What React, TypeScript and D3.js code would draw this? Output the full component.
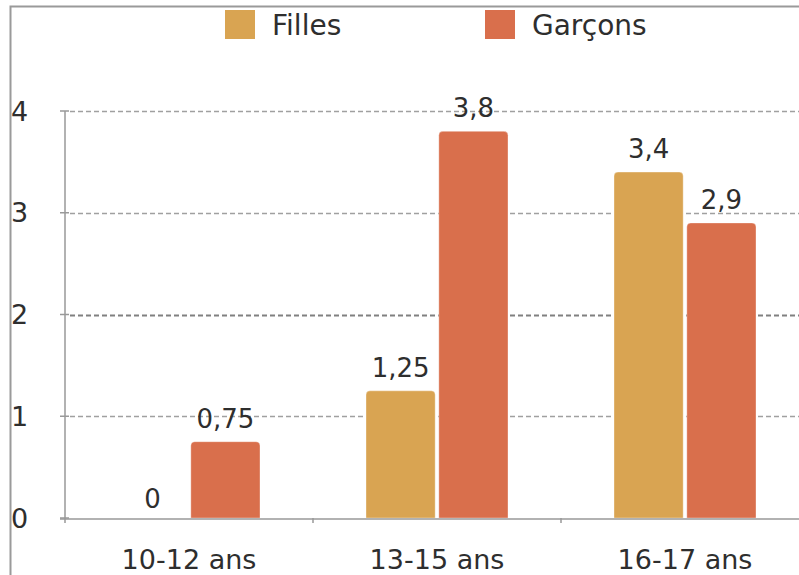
import { useEffect, useRef } from "react";
import * as d3 from "d3";

// age groups and values per series
const categories = ["10-12 ans", "13-15 ans", "16-17 ans"];
const seriesNames = ["Filles", "Garçons"];
const filles = [0, 1.25, 3.4];
const garcons = [0.75, 3.8, 2.9];
const valueLabels = [
  ["0", "1,25", "3,4"],
  ["0,75", "3,8", "2,9"],
];
const yTicks = [0, 1, 2, 3, 4];

const COLORS = ["#D9A452", "#D96F4C"];
const FONT = "'DejaVu Sans', Verdana, sans-serif";
const TEXT = "#2e2e2e";
const W = 799;
const H = 575;
const M = { left: 65, right: -10, top: 111, bottom: 57 };

export default function App() {
  const svgRef = useRef<SVGSVGElement | null>(null);

  useEffect(() => {
    const svg = d3.select(svgRef.current);
    svg.selectAll("*").remove();

    const series = [filles, garcons];
    const x0 = d3
      .scaleBand<string>()
      .domain(categories)
      .range([M.left, W - M.right]);
    const x1 = d3
      .scaleBand<string>()
      .domain(seriesNames)
      .range([0, 142])
      .paddingInner(0.05);
    const groupOffset = (x0.bandwidth() - 142) / 2;
    const y = d3.scaleLinear().domain([0, 4]).range([H - M.bottom, M.top]);

    // frame (cropped border on top and left)
    svg
      .append("path")
      .attr("d", `M10.5,${H} V6.5 H${W}`)
      .attr("fill", "none")
      .attr("stroke", "#9a9a9a")
      .attr("stroke-width", 2);

    // gridlines
    svg
      .append("g")
      .selectAll("line")
      .data(yTicks.filter((d) => d > 0))
      .join("line")
      .attr("x1", M.left + 5)
      .attr("x2", W)
      .attr("y1", (d) => Math.round(y(d)) + 0.5)
      .attr("y2", (d) => Math.round(y(d)) + 0.5)
      .attr("stroke", (d) => (d === 2 ? "#808080" : "#a0a0a0"))
      .attr("stroke-width", (d) => (d === 2 ? 2 : 1.3))
      .attr("stroke-dasharray", "5 3");

    // y tick labels, left aligned near the frame
    svg
      .append("g")
      .selectAll("text")
      .data(yTicks)
      .join("text")
      .attr("x", 11)
      .attr("y", (d) => y(d))
      .attr("dy", "0.36em")
      .attr("font-family", FONT)
      .attr("font-size", 27)
      .attr("fill", TEXT)
      .text((d) => d);

    // bars with rounded top corners
    const r = 4;
    const barPath = (x: number, w: number, top: number, bottom: number) => {
      const rr = Math.min(r, (bottom - top) / 2, w / 2);
      return `M${x},${bottom} V${top + rr} Q${x},${top} ${x + rr},${top} H${x + w - rr} Q${x + w},${top} ${x + w},${top + rr} V${bottom} Z`;
    };
    const bars = series.flatMap((vals, si) =>
      vals.map((v, ci) => ({ si, ci, v, label: valueLabels[si][ci] }))
    );
    const bx = (d: { si: number; ci: number }) =>
      (x0(categories[d.ci]) ?? 0) + groupOffset + (x1(seriesNames[d.si]) ?? 0);

    svg
      .append("g")
      .selectAll("path")
      .data(bars.filter((d) => d.v > 0))
      .join("path")
      .attr("d", (d) => barPath(bx(d), x1.bandwidth(), y(d.v), y(0)))
      .attr("fill", (d) => COLORS[d.si])
      .attr("stroke", "rgba(255,255,255,0.35)")
      .attr("stroke-width", 1);

    svg
      .append("g")
      .selectAll("text")
      .data(bars)
      .join("text")
      .attr("x", (d) => bx(d) + x1.bandwidth() / 2)
      .attr("y", (d) => y(d.v) - (d.v === 0 ? 10 : 14))
      .attr("text-anchor", "middle")
      .attr("font-family", FONT)
      .attr("font-size", 26)
      .attr("fill", TEXT)
      .text((d) => d.label);

    // axes
    const axisColor = "#999";
    svg
      .append("line")
      .attr("x1", M.left)
      .attr("x2", M.left)
      .attr("y1", y(4))
      .attr("y2", y(0) + 5)
      .attr("stroke", axisColor)
      .attr("stroke-width", 1.5);
    svg
      .append("g")
      .selectAll("line")
      .data(yTicks)
      .join("line")
      .attr("x1", M.left - 5)
      .attr("x2", M.left + 4)
      .attr("y1", (d) => y(d))
      .attr("y2", (d) => y(d))
      .attr("stroke", axisColor)
      .attr("stroke-width", 1.5);
    svg
      .append("line")
      .attr("x1", M.left - 5)
      .attr("x2", W)
      .attr("y1", y(0) + 1)
      .attr("y2", y(0) + 1)
      .attr("stroke", axisColor)
      .attr("stroke-width", 1.5);
    svg
      .append("g")
      .selectAll("line")
      .data(categories.slice(1))
      .join("line")
      .attr("x1", (d) => x0(d) ?? 0)
      .attr("x2", (d) => x0(d) ?? 0)
      .attr("y1", y(0))
      .attr("y2", y(0) + 5)
      .attr("stroke", axisColor)
      .attr("stroke-width", 1.5);

    // category labels
    svg
      .append("g")
      .selectAll("text")
      .data(categories)
      .join("text")
      .attr("x", (d) => (x0(d) ?? 0) + groupOffset + 71)
      .attr("y", 569)
      .attr("text-anchor", "middle")
      .attr("font-family", FONT)
      .attr("font-size", 27)
      .attr("fill", TEXT)
      .text((d) => d);

    // legend
    const legendX = [225, 485];
    const lg = svg
      .append("g")
      .selectAll("g")
      .data(seriesNames)
      .join("g")
      .attr("transform", (_d, i) => `translate(${legendX[i]},10)`);
    lg.append("rect")
      .attr("width", 30)
      .attr("height", 29)
      .attr("fill", (_d, i) => COLORS[i]);
    lg.append("text")
      .attr("x", 47)
      .attr("y", 25)
      .attr("font-family", FONT)
      .attr("font-size", 28)
      .attr("fill", TEXT)
      .text((d) => d);
  }, []);

  return (
    <svg
      ref={svgRef}
      width={W}
      height={H}
      style={{ position: "absolute", left: 0, top: 0, background: "#fff" }}
      role="img"
      aria-label="Bar chart by age group: Filles and Garçons"
    />
  );
}
